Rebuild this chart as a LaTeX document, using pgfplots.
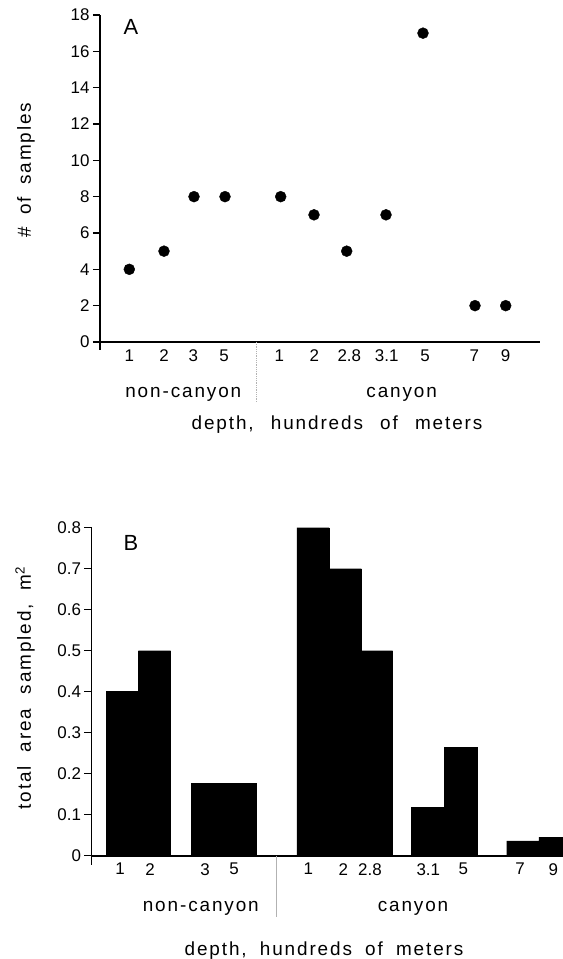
\documentclass[border=0pt]{standalone}
\usepackage{pgfplots}
\pgfplotsset{compat=1.18}
\usepackage{fontspec}
\setmainfont{Liberation Sans}
\newfontfamily\spfont[LetterSpace=10]{Liberation Sans}
\newcommand\lbl{\spfont\fontsize{19}{22}\selectfont}
\begin{document}
\begin{tikzpicture}
\useasboundingbox (0bp,0bp) rectangle (563bp,959bp);
\pgfplotsset{
  every axis/.append style={
    scale only axis, axis x line=bottom, axis y line=left,
    axis line style={line width=1.7bp, -},
    tick align=outside, major tick length=7bp,
    ytick style={line width=1.4bp, black},
    xtick style={draw=none},
    tick label style={font=\fontsize{17}{19}\selectfont},
    xticklabel style={yshift=3bp},
    /pgf/number format/assume math mode=true,
  }
}
% ---------------- Panel A ----------------
\begin{axis}[at={(100bp,617bp)}, anchor=south west, width=440bp, height=327bp,
  xmin=0, xmax=440, ymin=0, ymax=18, ytick={0,2,4,6,8,10,12,14,16,18},
  xtick={29.3,64,93.3,124,179.3,214.3,249.3,286.7,325,374.3,405.7},
  xticklabels={1,2,3,5,1,2,2.8,3.1,5,7,9}, clip=false]
\addplot[only marks, mark=*, mark size=5.5pt, black] coordinates {
 (29.3,4) (64,5) (94,8) (125,8) (180.7,8) (214,7) (246.7,5) (286,7) (323,17) (375,2) (405.7,2)};
\end{axis}
\draw[line width=1.7bp] (100bp,617bp) -- ++(0bp,-8bp);
\node[font=\fontsize{22}{24}\selectfont] at (131bp,932bp) {A};
\node[font=\lbl, rotate=90] at (26bp,789bp) {\#\hspace{5bp} of\hspace{5bp} samples};
\node[font=\lbl, anchor=base] at (183.3bp,561bp) {non-canyon};
\node[font=\lbl, anchor=base] at (401.7bp,561bp) {canyon};
\node[font=\lbl, anchor=base] at (337bp,529bp) {depth,\hspace{10bp} hundreds\hspace{10bp} of\hspace{10bp} meters};
\draw[gray!60, line width=0.8bp, densely dotted] (256.7bp,617bp) -- (256.7bp,557bp);
% ---------------- Panel B ----------------
\begin{axis}[at={(91.5bp,103.3bp)}, anchor=south west, width=471.5bp, height=328bp,
  xmin=0, xmax=471.5, ymin=0, ymax=0.8,
  ytick={0,0.1,0.2,0.3,0.4,0.5,0.6,0.7,0.8},
  yticklabel style={/pgf/number format/fixed, /pgf/number format/precision=1},
  tick label style={font=\fontsize{17}{19}\selectfont},
  xtick={28.5,58.5,113.5,142.5,216.8,251.8,278.5,336.8,371.8,428.5,461.8},
  xticklabels={1,2,3,5,1,2,2.8,3.1,5,7,9}]
\addplot[ybar, bar width=32.3, fill=black, draw=black] coordinates {
 (30.65,0.40) (63.0,0.50) (115.65,0.176) (148.15,0.176)
 (221.5,0.80) (253.65,0.70) (284.85,0.50)
 (336.0,0.118) (369.3,0.265) (431.35,0.036) (463.5,0.045)};
\end{axis}
\draw[line width=1.7bp] (91.5bp,103.3bp) -- ++(0bp,-9bp);
\node[font=\fontsize{22}{24}\selectfont] at (131bp,416bp) {B};
\node[font=\lbl, rotate=90] at (25bp,271bp) {total\hspace{7bp} area\hspace{7bp} sampled,\hspace{7bp} m\textsuperscript{2}};
\node[font=\lbl, anchor=base] at (200.8bp,47bp) {non-canyon};
\node[font=\lbl, anchor=base] at (413bp,47bp) {canyon};
\node[font=\lbl, anchor=base] at (324bp,4bp) {depth,\hspace{6bp} hundreds\hspace{6bp} of\hspace{6bp} meters};
\draw[gray!60, line width=0.8bp] (276.7bp,103.3bp) -- (276.7bp,42.3bp);
\end{tikzpicture}
\end{document}
